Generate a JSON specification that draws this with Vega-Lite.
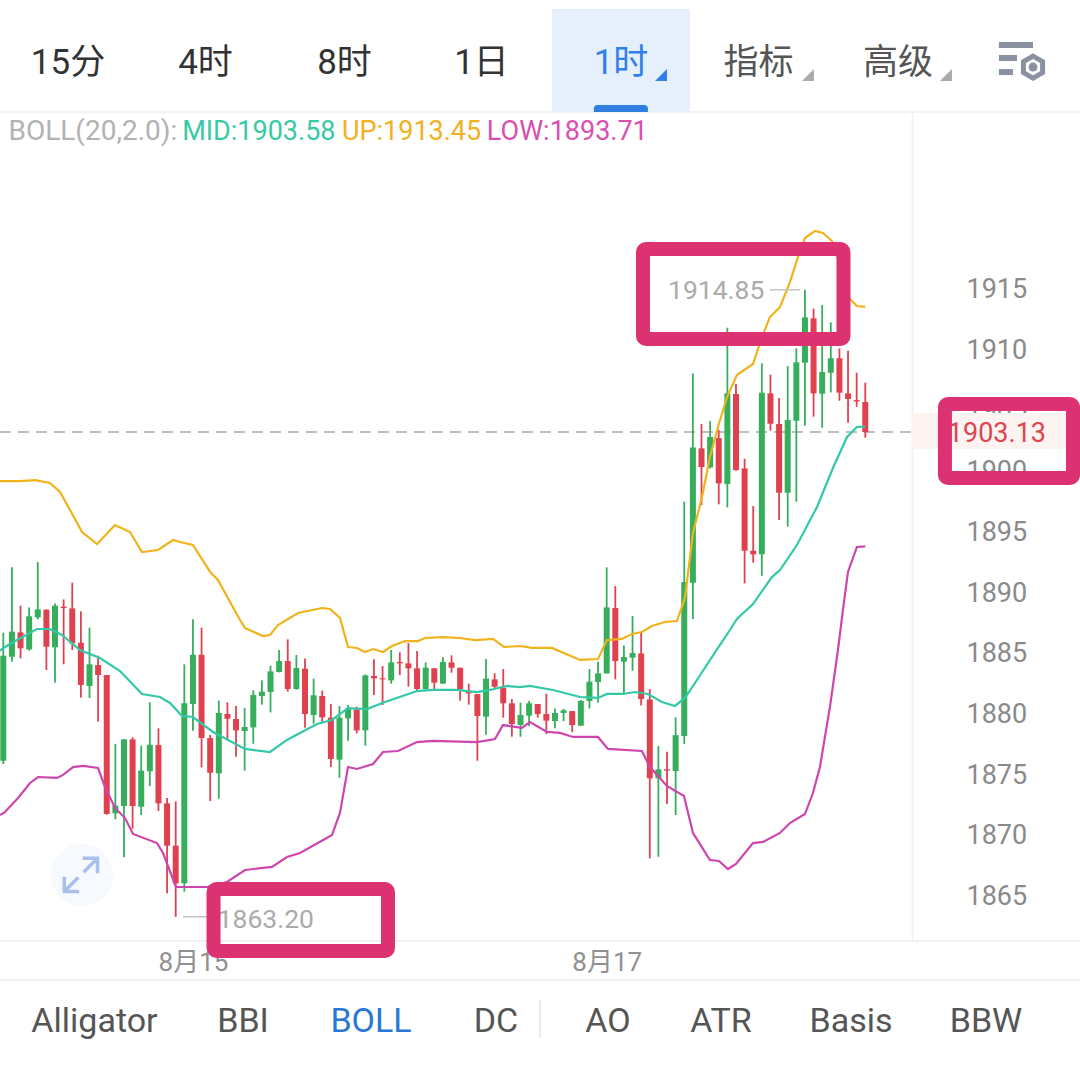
{
"$schema":"https://vega.github.io/schema/vega-lite/v6.json",
"width":912,"height":829,"autosize":"none","padding":{"left":0,"top":112,"right":168,"bottom":135},
"background":"#ffffff","view":{"stroke":null},
"datasets":{
"candles":[
{"i":0,"dir":"up","open":1876.06,"high":1886.61,"low":1875.79,"close":1884.71},
{"i":1,"dir":"up","open":1884.63,"high":1891.99,"low":1884.22,"close":1886.69},
{"i":2,"dir":"down","open":1886.63,"high":1888.83,"low":1884.49,"close":1885.32},
{"i":3,"dir":"up","open":1885.23,"high":1888.69,"low":1885.12,"close":1887.95},
{"i":4,"dir":"up","open":1887.87,"high":1892.43,"low":1887.71,"close":1888.53},
{"i":5,"dir":"down","open":1888.50,"high":1888.53,"low":1883.53,"close":1885.45},
{"i":6,"dir":"up","open":1885.40,"high":1889.02,"low":1882.49,"close":1888.83},
{"i":7,"dir":"down","open":1888.75,"high":1889.35,"low":1884.00,"close":1888.64},
{"i":8,"dir":"down","open":1888.61,"high":1890.73,"low":1885.18,"close":1885.73},
{"i":9,"dir":"down","open":1885.78,"high":1888.36,"low":1881.25,"close":1882.30},
{"i":10,"dir":"up","open":1882.21,"high":1887.02,"low":1881.23,"close":1884.00},
{"i":11,"dir":"down","open":1883.94,"high":1884.71,"low":1879.28,"close":1883.12},
{"i":12,"dir":"down","open":1883.12,"high":1883.12,"low":1871.62,"close":1871.67},
{"i":13,"dir":"up","open":1871.73,"high":1877.44,"low":1871.23,"close":1872.36},
{"i":14,"dir":"up","open":1872.33,"high":1877.82,"low":1868.10,"close":1877.82},
{"i":15,"dir":"down","open":1877.82,"high":1877.99,"low":1870.46,"close":1872.33},
{"i":16,"dir":"up","open":1872.27,"high":1877.30,"low":1871.59,"close":1875.24},
{"i":17,"dir":"up","open":1875.19,"high":1880.87,"low":1873.98,"close":1877.38},
{"i":18,"dir":"down","open":1877.35,"high":1878.73,"low":1871.92,"close":1872.55},
{"i":19,"dir":"down","open":1872.55,"high":1872.99,"low":1865.14,"close":1869.06},
{"i":20,"dir":"down","open":1869.06,"high":1872.71,"low":1863.20,"close":1865.96},
{"i":21,"dir":"up","open":1865.96,"high":1884.00,"low":1865.27,"close":1880.79},
{"i":22,"dir":"up","open":1880.73,"high":1887.71,"low":1878.53,"close":1884.79},
{"i":23,"dir":"down","open":1884.79,"high":1887.02,"low":1875.51,"close":1877.93},
{"i":24,"dir":"down","open":1877.93,"high":1878.18,"low":1872.74,"close":1875.07},
{"i":25,"dir":"up","open":1875.02,"high":1881.01,"low":1872.93,"close":1879.99},
{"i":26,"dir":"down","open":1879.91,"high":1880.87,"low":1877.77,"close":1879.52},
{"i":27,"dir":"down","open":1879.50,"high":1880.57,"low":1876.39,"close":1878.56},
{"i":28,"dir":"up","open":1878.51,"high":1880.40,"low":1875.24,"close":1878.84},
{"i":29,"dir":"up","open":1878.81,"high":1881.86,"low":1877.46,"close":1881.47},
{"i":30,"dir":"up","open":1881.39,"high":1882.68,"low":1880.68,"close":1881.75},
{"i":31,"dir":"up","open":1881.72,"high":1883.89,"low":1880.04,"close":1883.42},
{"i":32,"dir":"up","open":1883.37,"high":1885.18,"low":1883.34,"close":1884.27},
{"i":33,"dir":"down","open":1884.27,"high":1886.06,"low":1881.75,"close":1881.97},
{"i":34,"dir":"up","open":1881.97,"high":1884.77,"low":1881.91,"close":1883.70},
{"i":35,"dir":"down","open":1883.64,"high":1884.49,"low":1878.78,"close":1879.91},
{"i":36,"dir":"up","open":1879.83,"high":1882.82,"low":1879.11,"close":1881.45},
{"i":37,"dir":"down","open":1881.39,"high":1881.83,"low":1879.28,"close":1879.63},
{"i":38,"dir":"down","open":1879.61,"high":1880.73,"low":1875.54,"close":1876.20},
{"i":39,"dir":"up","open":1876.15,"high":1880.57,"low":1874.66,"close":1879.61},
{"i":40,"dir":"up","open":1879.55,"high":1880.65,"low":1877.71,"close":1880.37},
{"i":41,"dir":"down","open":1880.29,"high":1880.51,"low":1878.31,"close":1878.56},
{"i":42,"dir":"up","open":1878.56,"high":1883.17,"low":1877.30,"close":1883.09},
{"i":43,"dir":"down","open":1883.04,"high":1884.41,"low":1881.47,"close":1882.85},
{"i":44,"dir":"down","open":1882.85,"high":1883.86,"low":1880.65,"close":1882.76},
{"i":45,"dir":"up","open":1882.68,"high":1885.18,"low":1882.41,"close":1884.16},
{"i":46,"dir":"down","open":1884.19,"high":1884.99,"low":1883.12,"close":1884.08},
{"i":47,"dir":"down","open":1884.08,"high":1885.76,"low":1882.16,"close":1883.67},
{"i":48,"dir":"down","open":1883.67,"high":1885.10,"low":1881.83,"close":1881.97},
{"i":49,"dir":"up","open":1881.97,"high":1884.16,"low":1881.94,"close":1883.72},
{"i":50,"dir":"down","open":1883.67,"high":1883.70,"low":1881.97,"close":1882.49},
{"i":51,"dir":"up","open":1882.41,"high":1884.58,"low":1882.41,"close":1884.19},
{"i":52,"dir":"down","open":1884.16,"high":1884.74,"low":1883.31,"close":1883.72},
{"i":53,"dir":"down","open":1883.72,"high":1883.72,"low":1881.01,"close":1881.97},
{"i":54,"dir":"down","open":1881.72,"high":1882.41,"low":1880.68,"close":1881.61},
{"i":55,"dir":"down","open":1881.55,"high":1881.55,"low":1876.06,"close":1879.74},
{"i":56,"dir":"up","open":1879.69,"high":1884.44,"low":1878.20,"close":1882.82},
{"i":57,"dir":"down","open":1882.76,"high":1883.26,"low":1881.99,"close":1882.16},
{"i":58,"dir":"down","open":1882.08,"high":1883.61,"low":1879.61,"close":1880.79},
{"i":59,"dir":"down","open":1880.79,"high":1881.14,"low":1878.04,"close":1879.08},
{"i":60,"dir":"up","open":1879.00,"high":1880.84,"low":1878.04,"close":1879.83},
{"i":61,"dir":"up","open":1879.77,"high":1880.98,"low":1878.92,"close":1880.79},
{"i":62,"dir":"down","open":1880.73,"high":1880.73,"low":1879.61,"close":1879.91},
{"i":63,"dir":"down","open":1879.91,"high":1881.58,"low":1878.26,"close":1879.36},
{"i":64,"dir":"up","open":1879.33,"high":1880.37,"low":1878.73,"close":1879.99},
{"i":65,"dir":"up","open":1879.99,"high":1880.32,"low":1879.33,"close":1880.21},
{"i":66,"dir":"down","open":1880.15,"high":1880.15,"low":1878.42,"close":1879.00},
{"i":67,"dir":"up","open":1878.95,"high":1881.06,"low":1878.92,"close":1880.98},
{"i":68,"dir":"up","open":1880.98,"high":1883.61,"low":1880.37,"close":1882.57},
{"i":69,"dir":"up","open":1882.54,"high":1884.22,"low":1880.84,"close":1883.26},
{"i":70,"dir":"up","open":1883.25,"high":1891.99,"low":1883.25,"close":1888.69},
{"i":71,"dir":"down","open":1888.64,"high":1890.45,"low":1882.76,"close":1884.27},
{"i":72,"dir":"up","open":1884.22,"high":1885.56,"low":1881.61,"close":1884.60},
{"i":73,"dir":"up","open":1884.55,"high":1887.98,"low":1883.47,"close":1884.93},
{"i":74,"dir":"down","open":1884.90,"high":1886.69,"low":1880.62,"close":1881.14},
{"i":75,"dir":"down","open":1881.11,"high":1881.96,"low":1868.02,"close":1874.61},
{"i":76,"dir":"up","open":1874.61,"high":1877.27,"low":1868.15,"close":1875.35},
{"i":77,"dir":"down","open":1875.35,"high":1876.80,"low":1872.49,"close":1875.24},
{"i":78,"dir":"up","open":1875.21,"high":1879.63,"low":1871.59,"close":1878.17},
{"i":79,"dir":"up","open":1878.09,"high":1897.40,"low":1877.43,"close":1890.78},
{"i":80,"dir":"up","open":1890.73,"high":1907.97,"low":1887.73,"close":1901.87},
{"i":81,"dir":"down","open":1901.79,"high":1903.80,"low":1897.12,"close":1900.25},
{"i":82,"dir":"up","open":1900.23,"high":1904.04,"low":1900.14,"close":1902.73},
{"i":83,"dir":"down","open":1902.64,"high":1903.30,"low":1897.18,"close":1898.91},
{"i":84,"dir":"up","open":1898.85,"high":1911.73,"low":1896.93,"close":1906.32},
{"i":85,"dir":"down","open":1906.27,"high":1907.09,"low":1899.95,"close":1900.01},
{"i":86,"dir":"down","open":1900.14,"high":1900.94,"low":1890.67,"close":1893.36},
{"i":87,"dir":"down","open":1893.36,"high":1897.04,"low":1892.37,"close":1893.06},
{"i":88,"dir":"up","open":1893.06,"high":1908.79,"low":1891.30,"close":1906.38},
{"i":89,"dir":"down","open":1906.32,"high":1907.86,"low":1903.25,"close":1903.82},
{"i":90,"dir":"down","open":1903.80,"high":1905.94,"low":1895.89,"close":1898.14},
{"i":91,"dir":"up","open":1898.14,"high":1908.57,"low":1895.34,"close":1904.13},
{"i":92,"dir":"up","open":1904.07,"high":1910.03,"low":1897.40,"close":1908.88},
{"i":93,"dir":"up","open":1908.85,"high":1914.85,"low":1903.66,"close":1912.58},
{"i":94,"dir":"down","open":1912.50,"high":1913.30,"low":1904.40,"close":1906.32},
{"i":95,"dir":"up","open":1906.29,"high":1913.60,"low":1903.49,"close":1908.08},
{"i":96,"dir":"up","open":1908.02,"high":1912.17,"low":1906.40,"close":1909.21},
{"i":97,"dir":"down","open":1909.21,"high":1910.03,"low":1905.72,"close":1906.38},
{"i":98,"dir":"down","open":1906.32,"high":1909.84,"low":1903.91,"close":1905.86},
{"i":99,"dir":"down","open":1905.77,"high":1908.02,"low":1905.22,"close":1905.66},
{"i":100,"dir":"down","open":1905.61,"high":1907.20,"low":1902.67,"close":1903.13}
],
"upper":[
{"i":-0.38,"v":1899.10},{"i":1.94,"v":1899.10},{"i":3.68,"v":1899.18},{"i":5.42,"v":1898.94},{"i":6.58,"v":1898.20},{"i":7.74,"v":1896.71},{"i":9.13,"v":1894.90},{"i":10.87,"v":1893.91},{"i":12.96,"v":1895.48},{"i":14.70,"v":1894.90},{"i":16.09,"v":1893.25},{"i":17.95,"v":1893.42},{"i":19.69,"v":1894.24},{"i":20.50,"v":1894.08},{"i":22.0,"v":1893.83},{"i":24.0,"v":1891.61},{"i":24.9,"v":1890.95},{"i":27.46,"v":1887.65},{"i":28.04,"v":1886.99},{"i":30.13,"v":1886.33},{"i":30.94,"v":1886.42},{"i":31.87,"v":1887.24},{"i":34.19,"v":1888.23},{"i":36.97,"v":1888.64},{"i":37.90,"v":1888.56},{"i":39.06,"v":1887.82},{"i":39.99,"v":1885.43},{"i":41.03,"v":1885.35},{"i":41.96,"v":1885.02},{"i":42.89,"v":1885.26},{"i":44.05,"v":1885.02},{"i":45.09,"v":1885.51},{"i":46.6,"v":1885.92},{"i":48.11,"v":1885.92},{"i":48.92,"v":1886.17},{"i":51.01,"v":1886.25},{"i":52.98,"v":1886.17},{"i":54.72,"v":1886.0},{"i":56.81,"v":1886.09},{"i":58.09,"v":1885.43},{"i":59.94,"v":1885.51},{"i":61.33,"v":1885.35},{"i":63.65,"v":1885.35},{"i":66.9,"v":1884.36},{"i":68.99,"v":1884.44},{"i":70.03,"v":1886.0},{"i":71.77,"v":1886.09},{"i":72.93,"v":1886.50},{"i":74.09,"v":1886.66},{"i":75.25,"v":1887.16},{"i":76.76,"v":1887.49},{"i":78.15,"v":1887.57},{"i":79.08,"v":1889.47},{"i":80.01,"v":1894.82},{"i":81.06,"v":1897.78},{"i":81.98,"v":1901.08},{"i":82.91,"v":1903.55},{"i":83.96,"v":1906.02},{"i":85.11,"v":1907.83},{"i":86.97,"v":1908.74},{"i":88.01,"v":1910.96},{"i":88.94,"v":1912.61},{"i":90.1,"v":1913.43},{"i":91.26,"v":1915.49},{"i":92.19,"v":1917.55},{"i":93.0,"v":1919.12},{"i":94.16,"v":1919.70},{"i":95.09,"v":1919.53},{"i":96.13,"v":1918.87},{"i":97.06,"v":1916.89},{"i":98.11,"v":1914.18},{"i":99.03,"v":1913.52},{"i":100,"v":1913.45}
],
"middle":[
{"i":-0.38,"v":1885.1},{"i":0,"v":1885.35},{"i":1.59,"v":1886.01},{"i":3.91,"v":1886.91},{"i":5.42,"v":1886.91},{"i":6.81,"v":1886.42},{"i":8.9,"v":1885.18},{"i":11.22,"v":1884.52},{"i":13.54,"v":1883.45},{"i":16.09,"v":1881.56},{"i":18.18,"v":1881.31},{"i":19.34,"v":1880.82},{"i":20.73,"v":1879.75},{"i":22,"v":1879.66},{"i":24.33,"v":1878.43},{"i":28.04,"v":1877.03},{"i":30.94,"v":1876.78},{"i":32.91,"v":1877.77},{"i":34.42,"v":1878.35},{"i":36.39,"v":1879.09},{"i":38.13,"v":1879.42},{"i":39.99,"v":1880.40},{"i":42.19,"v":1880.32},{"i":44.28,"v":1880.90},{"i":47.99,"v":1881.80},{"i":49.85,"v":1881.89},{"i":52.63,"v":1881.89},{"i":54.95,"v":1881.72},{"i":56.46,"v":1881.89},{"i":58.43,"v":1882.22},{"i":59.94,"v":1882.13},{"i":61.1,"v":1882.22},{"i":63.77,"v":1881.89},{"i":66.9,"v":1881.31},{"i":68.99,"v":1881.23},{"i":70.03,"v":1881.56},{"i":71.89,"v":1881.56},{"i":73.28,"v":1881.72},{"i":74.79,"v":1881.56},{"i":76.41,"v":1880.90},{"i":77.92,"v":1880.57},{"i":79.08,"v":1881.23},{"i":80.47,"v":1882.71},{"i":82.91,"v":1885.35},{"i":84.3,"v":1886.83},{"i":85.11,"v":1887.74},{"i":86.97,"v":1888.97},{"i":89.17,"v":1891.19},{"i":90.1,"v":1891.77},{"i":92.07,"v":1893.83},{"i":94.4,"v":1896.96},{"i":96.25,"v":1900.17},{"i":97.88,"v":1902.73},{"i":99.03,"v":1903.55},{"i":100,"v":1903.58}
],
"lower":[
{"i":-0.38,"v":1871.59},{"i":0.08,"v":1871.76},{"i":1.71,"v":1872.99},{"i":3.1,"v":1874.23},{"i":4.03,"v":1874.72},{"i":6.23,"v":1874.64},{"i":6.93,"v":1874.89},{"i":8.09,"v":1875.54},{"i":9.25,"v":1875.63},{"i":10.99,"v":1875.46},{"i":11.8,"v":1873.90},{"i":12.96,"v":1872.17},{"i":14.12,"v":1871.34},{"i":15.05,"v":1870.03},{"i":17.83,"v":1869.28},{"i":18.53,"v":1868.46},{"i":20.03,"v":1865.66},{"i":23.63,"v":1865.66},{"i":25.95,"v":1866.07},{"i":28.04,"v":1867.06},{"i":31.17,"v":1867.31},{"i":32.91,"v":1868.13},{"i":34.42,"v":1868.46},{"i":37.32,"v":1869.61},{"i":38.13,"v":1869.94},{"i":39.06,"v":1871.76},{"i":39.99,"v":1875.54},{"i":41.03,"v":1875.38},{"i":42.89,"v":1875.79},{"i":44.05,"v":1876.78},{"i":45.79,"v":1876.86},{"i":47.99,"v":1877.60},{"i":49.85,"v":1877.69},{"i":54.95,"v":1877.60},{"i":57.04,"v":1877.85},{"i":57.97,"v":1879.00},{"i":60.17,"v":1878.76},{"i":61.1,"v":1879.25},{"i":63.07,"v":1878.43},{"i":64.58,"v":1878.35},{"i":66.09,"v":1878.02},{"i":68.99,"v":1878.02},{"i":70.15,"v":1877.03},{"i":74.09,"v":1876.86},{"i":75.02,"v":1875.54},{"i":76.99,"v":1873.98},{"i":78.97,"v":1873.16},{"i":80.01,"v":1870.11},{"i":81.98,"v":1867.88},{"i":83.03,"v":1867.80},{"i":84.07,"v":1867.14},{"i":85,"v":1867.55},{"i":86.97,"v":1869.28},{"i":88.14,"v":1869.37},{"i":90.1,"v":1870.11},{"i":91.26,"v":1870.93},{"i":93,"v":1871.67},{"i":93.93,"v":1873.40},{"i":94.74,"v":1875.54},{"i":95.9,"v":1880.49},{"i":96.83,"v":1885.18},{"i":97.41,"v":1888.48},{"i":97.99,"v":1891.61},{"i":99.03,"v":1893.67},{"i":100,"v":1893.71}
],
"grid":[{"p":1865},{"p":1870},{"p":1875},{"p":1880},{"p":1885},{"p":1890},{"p":1895},{"p":1900},{"p":1905},{"p":1910},{"p":1915}]
},
"encoding":{"x":{"field":"i","type":"quantitative","title":null,"scale":{"domain":[-0.383,105.42],"nice":false,"zero":false},
"axis":{"orient":"bottom","values":[22,70],"labelExpr":"datum.value==22?'8月15':'8月17'","grid":false,"domain":false,"ticks":false,"labelPadding":8,"labelFontSize":26,"labelColor":"#909090","labelFont":"Roboto, 'Noto Sans CJK SC'","labelFlush":false,"labelBound":false,"labelOverlap":false,"title":null}}},
"layer":[
{"data":{"name":"grid"},"mark":{"type":"rule","stroke":"#f1f1f1","strokeWidth":1.5},
"encoding":{"x":{"datum":-0.383,"scale":{"domain":[-0.383,105.42],"nice":false,"zero":false}},"x2":{"datum":106.93},
"y":{"field":"p","type":"quantitative","title":null,"scale":{"domain":[1861.21,1929.5],"nice":false,"zero":false},
"axis":{"orient":"right","values":[1865,1870,1875,1880,1885,1890,1895,1900,1905,1910,1915],"format":"d","grid":false,"ticks":false,"labelPadding":54,"labelOffset":1.5,"labelFontSize":27,"labelColor":"#8a8a8a","labelFont":"Roboto, 'Noto Sans CJK SC'","labelBaseline":"middle","labelFlush":false,"labelBound":false,"labelOverlap":false,"domainColor":"#f0f0f0","domainWidth":1.5,"title":null}}}},
{"data":{"name":"grid"},"mark":{"type":"rule","stroke":"#f1f1f1","strokeWidth":1.5},
"encoding":{"x":{"datum":123.6,"scale":{"domain":[-0.383,105.42],"nice":false,"zero":false}},"x2":{"datum":124.9},
"y":{"field":"p","type":"quantitative","scale":{"domain":[1861.21,1929.5],"nice":false,"zero":false},"title":null}}},
{"data":{"values":[{"i":-0.383,"i2":124.9,"p":1929.5},{"i":-0.383,"i2":124.9,"p":1861.21},{"i":-0.383,"i2":124.9,"p":1858.0}]},"mark":{"type":"rule","stroke":"#eeeeee","strokeWidth":1.5},
"encoding":{"x2":{"field":"i2"},"y":{"field":"p","type":"quantitative","scale":{"domain":[1861.21,1929.5],"nice":false,"zero":false},"title":null}}},
{"data":{"values":[{"i":63.65,"i2":79.66,"p":1937.98,"p2":1929.5}]},"mark":{"type":"rect","fill":"#e5f0fc"},
"encoding":{"x2":{"field":"i2"},"y":{"field":"p","type":"quantitative","scale":{"domain":[1861.21,1929.5],"nice":false,"zero":false},"title":null},"y2":{"field":"p2"}}},
{"data":{"values":[{"i":68.52,"i2":74.78,"p":1930.07,"p2":1929.5}]},"mark":{"type":"rect","fill":"#2f7fe0","cornerRadiusTopLeft":4,"cornerRadiusTopRight":4},
"encoding":{"x2":{"field":"i2"},"y":{"field":"p","type":"quantitative","scale":{"domain":[1861.21,1929.5],"nice":false,"zero":false},"title":null},"y2":{"field":"p2"}}},
{"data":{"values":[{"i":105.42,"i2":124.9,"p":1904.7,"p2":1901.74}]},"mark":{"type":"rect","fill":"#fdf3f1"},
"encoding":{"x2":{"field":"i2"},"y":{"field":"p","type":"quantitative","scale":{"domain":[1861.21,1929.5],"nice":false,"zero":false},"title":null},"y2":{"field":"p2"}}},
{"data":{"values":[{"i":9.13,"p":1866.65}]},"mark":{"type":"point","filled":true,"fill":"#f6f9fe","stroke":null,"shape":"circle","size":3848,"opacity":1},
"encoding":{"y":{"field":"p","type":"quantitative","scale":{"domain":[1861.21,1929.5],"nice":false,"zero":false},"title":null}}},
{"data":{"values":[{"i":9.0,"p":1866.65}]},"mark":{"type":"point","filled":false,"fill":null,"stroke":"#a9c1ea","strokeWidth":3.5,"opacity":1,"size":1225,"shape":"M.15,-.15L.95,-.95M.1,-.95L.95,-.95L.95,-.1M-.15,.15L-.95,.95M-.1,.95L-.95,.95L-.95,.1"},
"encoding":{"y":{"field":"p","type":"quantitative","scale":{"domain":[1861.21,1929.5],"nice":false,"zero":false},"title":null}}},
{"data":{"values":[{"i":-0.383,"i2":105.42,"p":1903.13}]},"mark":{"type":"rule","stroke":"#bdbdbd","strokeWidth":2,"strokeDash":[11,7]},
"encoding":{"x2":{"field":"i2"},"y":{"field":"p","type":"quantitative","scale":{"domain":[1861.21,1929.5],"nice":false,"zero":false},"title":null}}},
{"data":{"name":"candles"},"mark":{"type":"rule","strokeWidth":1.8},
"encoding":{"y":{"field":"high","type":"quantitative","scale":{"domain":[1861.21,1929.5],"nice":false,"zero":false},"title":null},"y2":{"field":"low"},
"color":{"field":"dir","type":"nominal","legend":null,"scale":{"domain":["up","down"],"range":["#36ae5c","#e0414f"]}}}},
{"data":{"name":"candles"},"mark":{"type":"rule","strokeWidth":6},
"encoding":{"y":{"field":"open","type":"quantitative","scale":{"domain":[1861.21,1929.5],"nice":false,"zero":false},"title":null},"y2":{"field":"close"},
"color":{"field":"dir","type":"nominal","legend":null,"scale":{"domain":["up","down"],"range":["#36ae5c","#e0414f"]}}}},
{"data":{"name":"upper"},"mark":{"type":"line","stroke":"#f0b31b","strokeWidth":2.2},
"encoding":{"y":{"field":"v","type":"quantitative","scale":{"domain":[1861.21,1929.5],"nice":false,"zero":false},"title":null}}},
{"data":{"name":"middle"},"mark":{"type":"line","stroke":"#33c9a8","strokeWidth":2.2},
"encoding":{"y":{"field":"v","type":"quantitative","scale":{"domain":[1861.21,1929.5],"nice":false,"zero":false},"title":null}}},
{"data":{"name":"lower"},"mark":{"type":"line","stroke":"#cf45ae","strokeWidth":2.2},
"encoding":{"y":{"field":"v","type":"quantitative","scale":{"domain":[1861.21,1929.5],"nice":false,"zero":false},"title":null}}},
{"data":{"values":[{"i":88.94,"i2":92.42,"p":1914.85},{"i":20.85,"i2":25.14,"p":1863.2}]},"mark":{"type":"rule","stroke":"#c4c4c4","strokeWidth":1.5},
"encoding":{"x2":{"field":"i2"},"y":{"field":"p","type":"quantitative","scale":{"domain":[1861.21,1929.5],"nice":false,"zero":false},"title":null}}},
{"data":{"values":[{"i":82.7,"p":1914.73,"t":"1914.85"},{"i":30.45,"p":1862.95,"t":"1863.20"}]},"mark":{"type":"text","font":"Roboto, 'Noto Sans CJK SC'","fontSize":26.5,"fill":"#ababab","align":"center","baseline":"middle"},
"encoding":{"y":{"field":"p","type":"quantitative","scale":{"domain":[1861.21,1929.5],"nice":false,"zero":false},"title":null},"text":{"field":"t"}}},
{"data":{"values":[{"i":115.27,"p":1903.0,"t":"1903.13"}]},"mark":{"type":"text","font":"Roboto, 'Noto Sans CJK SC'","fontSize":27,"fill":"#dd4550","align":"center","baseline":"middle"},
"encoding":{"y":{"field":"p","type":"quantitative","scale":{"domain":[1861.21,1929.5],"nice":false,"zero":false},"title":null},"text":{"field":"t"}}},
{"data":{"values":[{"i":74.21,"i2":97.47,"p":1918.21,"p2":1910.8},{"i":109.24,"i2":124.1,"p":1905.45,"p2":1899.35},{"i":24.39,"i2":44.63,"p":1865.49,"p2":1860.39}]},"mark":{"type":"rect","fill":"transparent","stroke":"#dc3272","strokeWidth":14,"cornerRadius":3},
"encoding":{"x2":{"field":"i2"},"y":{"field":"p","type":"quantitative","scale":{"domain":[1861.21,1929.5],"nice":false,"zero":false},"title":null},"y2":{"field":"p2"}}},
{"data":{"values":[{"i":0.6,"p":1927.85,"t":"BOLL(20,2.0):"}]},"mark":{"type":"text","font":"Roboto, 'Noto Sans CJK SC'","fontSize":28,"fill":"#b2b2b2","align":"left","baseline":"middle"},
"encoding":{"y":{"field":"p","type":"quantitative","scale":{"domain":[1861.21,1929.5],"nice":false,"zero":false},"title":null},"text":{"field":"t"}}},
{"data":{"values":[{"i":20.75,"p":1927.85,"t":"MID:1903.58"}]},"mark":{"type":"text","font":"Roboto, 'Noto Sans CJK SC'","fontSize":27,"fill":"#38c9a5","align":"left","baseline":"middle"},
"encoding":{"y":{"field":"p","type":"quantitative","scale":{"domain":[1861.21,1929.5],"nice":false,"zero":false},"title":null},"text":{"field":"t"}}},
{"data":{"values":[{"i":39.29,"p":1927.85,"t":"UP:1913.45"}]},"mark":{"type":"text","font":"Roboto, 'Noto Sans CJK SC'","fontSize":27,"fill":"#f1b122","align":"left","baseline":"middle"},
"encoding":{"y":{"field":"p","type":"quantitative","scale":{"domain":[1861.21,1929.5],"nice":false,"zero":false},"title":null},"text":{"field":"t"}}},
{"data":{"values":[{"i":56.1,"p":1927.85,"t":"LOW:1893.71"}]},"mark":{"type":"text","font":"Roboto, 'Noto Sans CJK SC'","fontSize":27,"fill":"#d94fb1","align":"left","baseline":"middle"},
"encoding":{"y":{"field":"p","type":"quantitative","scale":{"domain":[1861.21,1929.5],"nice":false,"zero":false},"title":null},"text":{"field":"t"}}},
{"data":{"values":[{"i":7.51,"p":1933.55,"t":"15分"},{"i":23.46,"p":1933.55,"t":"4时"},{"i":39.58,"p":1933.55,"t":"8时"},{"i":55.48,"p":1933.55,"t":"1日"}]},"mark":{"type":"text","font":"Roboto, 'Noto Sans CJK SC'","fontSize":35,"fill":"#333333","align":"center","baseline":"middle"},
"encoding":{"y":{"field":"p","type":"quantitative","scale":{"domain":[1861.21,1929.5],"nice":false,"zero":false},"title":null},"text":{"field":"t"}}},
{"data":{"values":[{"i":71.66,"p":1933.55,"t":"1时"}]},"mark":{"type":"text","font":"Roboto, 'Noto Sans CJK SC'","fontSize":35,"fill":"#2f80e8","align":"center","baseline":"middle"},
"encoding":{"y":{"field":"p","type":"quantitative","scale":{"domain":[1861.21,1929.5],"nice":false,"zero":false},"title":null},"text":{"field":"t"}}},
{"data":{"values":[{"i":87.6,"p":1933.55,"t":"指标"},{"i":103.8,"p":1933.55,"t":"高级"}]},"mark":{"type":"text","font":"Roboto, 'Noto Sans CJK SC'","fontSize":35,"fill":"#555555","align":"center","baseline":"middle"},
"encoding":{"y":{"field":"p","type":"quantitative","scale":{"domain":[1861.21,1929.5],"nice":false,"zero":false},"title":null},"text":{"field":"t"}}},
{"data":{"values":[{"i":76.3,"p":1932.54}]},"mark":{"type":"point","filled":true,"fill":"#2f80e8","stroke":null,"opacity":1,"size":144,"shape":"M1,-1L1,1L-1,1Z"},
"encoding":{"y":{"field":"p","type":"quantitative","scale":{"domain":[1861.21,1929.5],"nice":false,"zero":false},"title":null}}},
{"data":{"values":[{"i":93.35,"p":1932.54},{"i":109.36,"p":1932.54}]},"mark":{"type":"point","filled":true,"fill":"#aaaaaa","stroke":null,"opacity":1,"size":144,"shape":"M1,-1L1,1L-1,1Z"},
"encoding":{"y":{"field":"p","type":"quantitative","scale":{"domain":[1861.21,1929.5],"nice":false,"zero":false},"title":null}}},
{"data":{"values":[{"i":115.5,"i2":119.46,"p":1935.02},{"i":115.5,"i2":117.6,"p":1933.95},{"i":115.5,"i2":117.13,"p":1932.79}]},"mark":{"type":"rule","stroke":"#8a91a0","strokeWidth":6},
"encoding":{"x2":{"field":"i2"},"y":{"field":"p","type":"quantitative","scale":{"domain":[1861.21,1929.5],"nice":false,"zero":false},"title":null}}},
{"data":{"values":[{"i":119.46,"p":1933.2}]},"mark":{"type":"point","filled":false,"fill":"#ffffff","stroke":"#8a91a0","strokeWidth":5,"opacity":1,"size":484,"shape":"M0,-1L.87,-.5L.87,.5L0,1L-.87,.5L-.87,-.5Z"},
"encoding":{"y":{"field":"p","type":"quantitative","scale":{"domain":[1861.21,1929.5],"nice":false,"zero":false},"title":null}}},
{"data":{"values":[{"i":119.46,"p":1933.2}]},"mark":{"type":"point","filled":true,"fill":"#8a91a0","stroke":null,"opacity":1,"size":80,"shape":"circle"},
"encoding":{"y":{"field":"p","type":"quantitative","scale":{"domain":[1861.21,1929.5],"nice":false,"zero":false},"title":null}}},
{"data":{"values":[{"i":10.58,"p":1854.55,"t":"Alligator"},{"i":27.81,"p":1854.55,"t":"BBI"},{"i":57.16,"p":1854.55,"t":"DC"},{"i":70.15,"p":1854.55,"t":"AO"},{"i":83.26,"p":1854.55,"t":"ATR"},{"i":98.34,"p":1854.55,"t":"Basis"},{"i":114,"p":1854.55,"t":"BBW"}]},"mark":{"type":"text","font":"Roboto, 'Noto Sans CJK SC'","fontSize":34,"fill":"#555555","align":"center","baseline":"middle"},
"encoding":{"y":{"field":"p","type":"quantitative","scale":{"domain":[1861.21,1929.5],"nice":false,"zero":false},"title":null},"text":{"field":"t"}}},
{"data":{"values":[{"i":42.66,"p":1854.55,"t":"BOLL"}]},"mark":{"type":"text","font":"Roboto, 'Noto Sans CJK SC'","fontSize":34,"fill":"#2a78d6","align":"center","baseline":"middle"},
"encoding":{"y":{"field":"p","type":"quantitative","scale":{"domain":[1861.21,1929.5],"nice":false,"zero":false},"title":null},"text":{"field":"t"}}},
{"data":{"values":[{"i":62.26,"p":1856.35,"p2":1853.22}]},"mark":{"type":"rule","stroke":"#e6e6e6","strokeWidth":1.5},
"encoding":{"y":{"field":"p","type":"quantitative","scale":{"domain":[1861.21,1929.5],"nice":false,"zero":false},"title":null},"y2":{"field":"p2"}}}
]
}
